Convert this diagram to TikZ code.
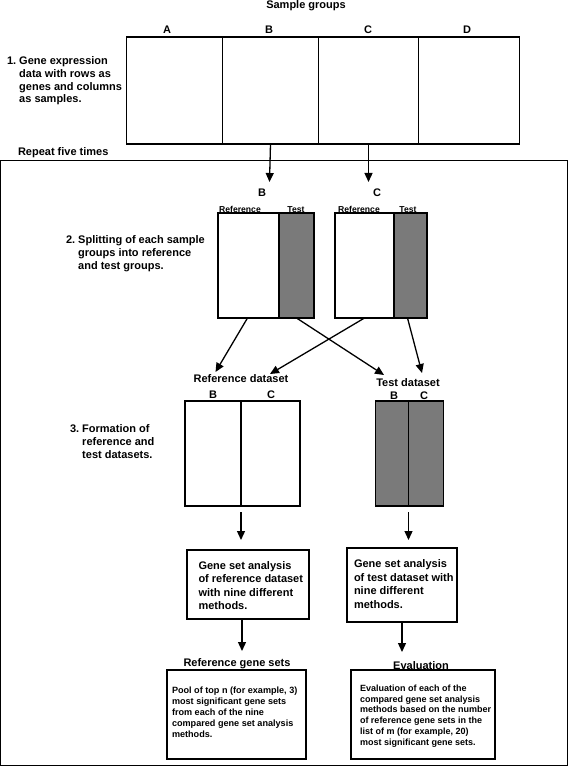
\documentclass[tikz,border=0pt]{standalone}
\usepackage{fontspec}
\setmainfont{Liberation Sans}
\usetikzlibrary{arrows.meta}
\definecolor{greyfill}{RGB}{122,122,122}
\begin{document}
\begin{tikzpicture}[x=1pt,y=-1pt,
  every node/.style={inner sep=0pt, outer sep=0pt},
  big/.style={font=\fontsize{11}{12.7}\selectfont\bfseries},
  stepbox/.style={big, align=left, anchor=west},
  small/.style={font=\fontsize{8.6}{9}\selectfont\bfseries},
  gsatext/.style={font=\fontsize{11}{13.6}\selectfont\bfseries, align=left, anchor=west},
  pooltext/.style={font=\fontsize{9.1}{11}\selectfont\bfseries, align=left, anchor=west},
  evtext/.style={font=\fontsize{9}{10.8}\selectfont\bfseries, align=left, anchor=west},
  cell/.style={draw, line width=1.5pt, minimum height=#1},
  gsabox/.style={draw, line width=2pt},
  endbox/.style={draw, line width=1.8pt},
  arr/.style={line width=1.3pt, -{Triangle[length=9pt,width=8pt]}},
  crossline/.style={line width=1.3pt, -{Triangle[length=9pt,width=8pt]}},
]
\useasboundingbox (0,0) rectangle (568,770);
\fill[white] (0,0) rectangle (568,770);

% frame
\draw[line width=1pt] (0.5,161) rectangle (567,765);

% top labels
\node[big] (sg) at (306,6) {Sample groups};
\node[big] (lA) at (167,30) {A};
\node[big] (lB) at (269,30) {B};
\node[big] (lC) at (368,30) {C};
\node[big] (lD) at (467,30) {D};

% grid
\node[cell=107pt, minimum width=96pt] (gA) at (174.5,90.5) {};
\node[cell=107pt, minimum width=96pt] (gB) at (270.5,90.5) {};
\node[cell=107pt, minimum width=100pt] (gC) at (368.5,90.5) {};
\node[cell=107pt, minimum width=101pt] (gD) at (469,90.5) {};

\node[stepbox] (s1) at (7,81) {1.\ Gene expression\\\hphantom{1.\ }data with rows as\\\hphantom{1.\ }genes and columns\\\hphantom{1.\ }as samples.};

\node[big, anchor=west] (rep) at (18,153) {Repeat five times};

% step 2
\coordinate (tB) at (269.5,182);
\coordinate (tC) at (368.5,182);
\draw[arr] (gB.south) -- (tB);
\draw[arr] (gC.south) -- (tC);

\node[big] (sB) at (262,193) {B};
\node[big] (sC) at (377,193) {C};
\node[small, anchor=base] (r1) at (240,212) {Reference};
\node[small, anchor=base] (t1) at (296,212) {Test};
\node[small, anchor=base] (r2) at (359,212) {Reference};
\node[small, anchor=base] (t2) at (408,212) {Test};

\node[cell=105pt, minimum width=61pt] (bRef) at (248.5,265.5) {};
\node[cell=105pt, minimum width=35pt, fill=greyfill] (bTest) at (296.5,265.5) {};
\node[cell=105pt, minimum width=59pt] (cRef) at (364.5,265.5) {};
\node[cell=105pt, minimum width=33pt, fill=greyfill] (cTest) at (410.5,265.5) {};

\node[stepbox] (s2) at (66,253.5) {2.\ Splitting of each sample\\\hphantom{2.\ }groups into reference\\\hphantom{2.\ }and test groups.};

% crossing arrows
\coordinate (eR1) at (215.5,372);
\coordinate (eR2) at (270,374);
\coordinate (eT1) at (384,375);
\coordinate (eT2) at (422,373);
\draw[crossline] ([xshift=-1pt]bRef.south) -- (eR1);
\draw[crossline] (bTest.south) -- (eT1);
\draw[crossline] (cRef.south) -- (eR2);
\draw[crossline] ([xshift=-3pt]cTest.south) -- (eT2);

% step 3
\node[big] (rds) at (241,379) {Reference dataset};
\node[big] (tds) at (408,383) {Test dataset};
\node[big] (rdB) at (213,395) {B};
\node[big] (rdC) at (271,395) {C};
\node[big] (tdB) at (394,396) {B};
\node[big] (tdC) at (424,396) {C};

\node[cell=105pt, minimum width=56pt] (rB) at (213,453.5) {};
\node[cell=105pt, minimum width=59pt] (rC) at (270.5,453.5) {};
\node[cell=105pt, minimum width=33pt, fill=greyfill] (xB) at (392,453.5) {};
\node[cell=105pt, minimum width=35pt, fill=greyfill] (xC) at (426,453.5) {};

\node[stepbox] (s3) at (70,441.5) {3.\ Formation of\\\hphantom{3.\ }reference and\\\hphantom{3.\ }test datasets.};

\coordinate (eG1) at (241,540);
\coordinate (eG2) at (408.5,540);
\draw[arr] ([yshift=-6pt]rB.south east) -- (eG1);
\draw[arr] ([yshift=-6pt]xB.south east) -- (eG2);

% gene set analysis boxes
\node[gsabox, minimum width=122pt, minimum height=69pt] (gsaR) at (247.5,584.5) {};
\node[gsatext] (gsaRt) at (198.5,585.5) {Gene set analysis\\of reference dataset\\with nine different\\methods.};
\node[gsabox, minimum width=110pt, minimum height=74pt] (gsaT) at (402,585) {};
\node[gsatext] (gsaTt) at (354,584) {Gene set analysis\\of test dataset with\\nine different\\methods.};

\coordinate (eB1) at (242,651);
\coordinate (eB2) at (402,652);
\draw[arr] ([xshift=-5.5pt]gsaR.south) -- (eB1);
\draw[arr] (gsaT.south) -- (eB2);

% bottom
\node[big] (rgs) at (237,664) {Reference gene sets};
\node[big] (evl) at (421,666) {Evaluation};

\node[endbox, minimum width=139pt, minimum height=89pt] (poolbox) at (236.5,714.5) {};
\node[pooltext] (pool) at (172,712.5) {Pool of top n (for example, 3)\\most significant gene sets\\from each of the nine\\compared gene set analysis\\methods.};
\node[endbox, minimum width=144pt, minimum height=89pt] (evbox) at (423,714.5) {};
\node[evtext] (evt) at (360,716) {Evaluation of each of the\\compared gene set analysis\\methods based on the number\\of reference gene sets in the\\list of m (for example, 20)\\most significant gene sets.};
\end{tikzpicture}
\end{document}
